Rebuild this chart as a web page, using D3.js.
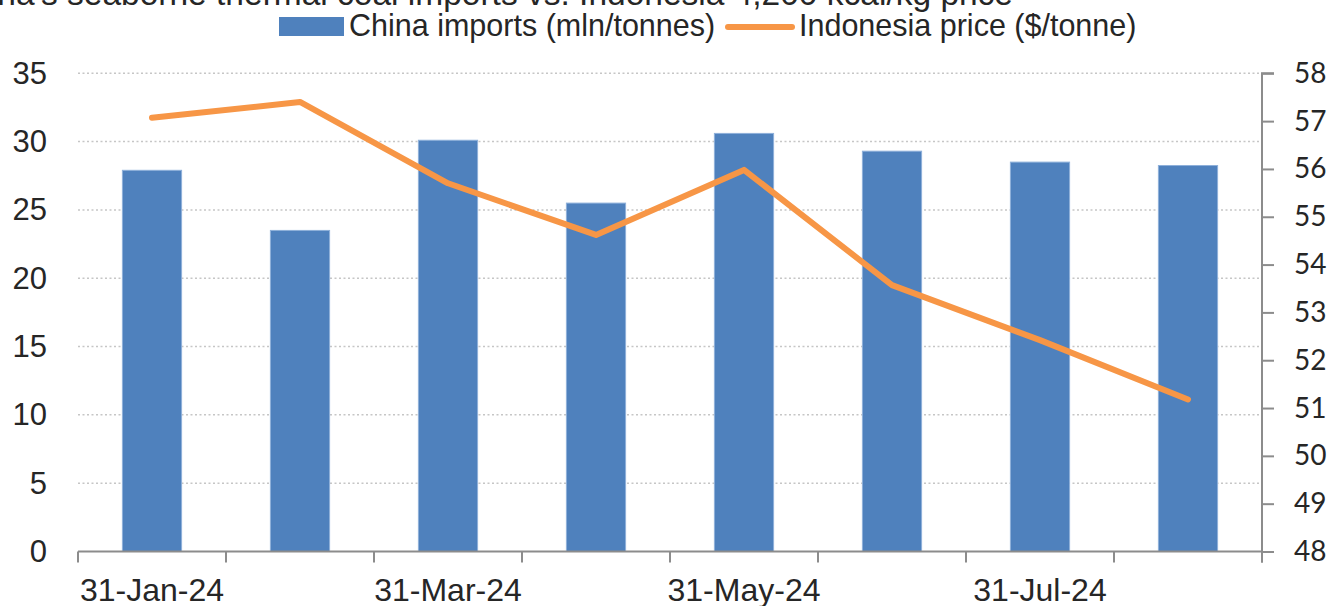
<!DOCTYPE html>
<html>
<head>
<meta charset="utf-8">
<script src="https://cdn.jsdelivr.net/npm/d3@7"></script>
<style>
  body { margin: 0; background: #fff; }
  svg { display: block; }
  text { font-family: "Liberation Sans", Arial, sans-serif; fill: #262626; }
</style>
</head>
<body>
<svg id="chart"></svg>
<script>
// data
const categories = ['31-Jan-24', '29-Feb-24', '31-Mar-24', '30-Apr-24', '31-May-24', '30-Jun-24', '31-Jul-24', '31-Aug-24'];
const imports = [27.9, 23.5, 30.1, 25.5, 30.6, 29.3, 28.5, 28.25];
const price = [57.07, 57.4, 55.7, 54.62, 55.98, 53.57, 52.42, 51.18];
const shownLabels = ['31-Jan-24', '31-Mar-24', '31-May-24', '31-Jul-24'];
const leftTicks = [0, 5, 10, 15, 20, 25, 30, 35];
const rightTicks = [48, 49, 50, 51, 52, 53, 54, 55, 56, 57, 58];

const width = 1330, height = 606;
const plot = { left: 78, right: 1262, top: 73.3, bottom: 551.5 };

const svg = d3.select('#chart')
    .attr('width', width)
    .attr('height', height);

const x = d3.scaleBand()
    .domain(categories)
    .range([plot.left, plot.right])
    .paddingInner(0.6)
    .paddingOuter(0.3);

const yL = d3.scaleLinear().domain([0, 35]).range([plot.bottom, plot.top]);
const yR = d3.scaleLinear().domain([48, 58]).range([plot.bottom, plot.top]);

// title, mostly cropped off the top
svg.append('text')
    .attr('x', 1013)
    .attr('y', 5)
    .attr('text-anchor', 'end')
    .style('font-size', '33.5px')
    .text("China's seaborne thermal coal imports vs. Indonesia 4,200 kcal/kg price");

// gridlines
svg.append('g')
    .selectAll('line')
    .data(leftTicks.filter(d => d > 0))
    .enter()
    .append('line')
        .attr('x1', plot.left)
        .attr('x2', plot.right)
        .attr('y1', d => yL(d))
        .attr('y2', d => yL(d))
        .attr('stroke', '#c6c6c6')
        .attr('stroke-width', 1.5)
        .attr('stroke-dasharray', '2,2.5');

// left axis, labels only
const gL = svg.append('g')
    .attr('transform', `translate(${plot.left},0)`)
    .call(d3.axisLeft(yL).tickValues(leftTicks).tickSize(0).tickPadding(31));
gL.select('.domain').remove();
gL.selectAll('text')
    .style('font-size', '31px')
    .style('font-family', '"Liberation Sans", Arial, sans-serif')
    .attr('fill', '#262626');

// bars
svg.append('g')
    .selectAll('rect')
    .data(imports)
    .enter()
    .append('rect')
        .attr('x', (d, i) => x(categories[i]))
        .attr('width', x.bandwidth())
        .attr('y', d => yL(d))
        .attr('height', d => yL(0) - yL(d))
        .attr('fill', '#4f81bd')
        .attr('stroke', '#8eb0da')
        .attr('stroke-width', 1);

// bottom axis line + ticks at category boundaries
const half = (x.step() - x.bandwidth()) / 2;
const bounds = categories.map(c => x(c) - half).concat([plot.right]);
const gB = svg.append('g');
gB.append('line')
    .attr('x1', plot.left).attr('x2', plot.right)
    .attr('y1', plot.bottom).attr('y2', plot.bottom)
    .attr('stroke', '#8c8c8c').attr('stroke-width', 2);
gB.selectAll('line.tick')
    .data(bounds)
    .enter()
    .append('line')
        .attr('class', 'tick')
        .attr('x1', d => d).attr('x2', d => d)
        .attr('y1', plot.bottom).attr('y2', plot.bottom + 11)
        .attr('stroke', '#8c8c8c').attr('stroke-width', 2);
gB.selectAll('text')
    .data(shownLabels)
    .enter()
    .append('text')
        .attr('x', d => x(d) + x.bandwidth() / 2)
        .attr('y', 601)
        .attr('text-anchor', 'middle')
        .style('font-size', '32px')
        .text(d => d);

// right axis
const gR = svg.append('g')
    .attr('transform', `translate(${plot.right},0)`)
    .call(d3.axisRight(yR).tickValues(rightTicks).tickSize(12).tickSizeOuter(12).tickPadding(20));
gR.select('.domain')
    .attr('stroke', '#8c8c8c').attr('stroke-width', 2)
    .attr('d', `M12,${plot.top}H0V${plot.bottom + 11}`);
gR.selectAll('.tick line').attr('stroke', '#8c8c8c').attr('stroke-width', 2);
gR.selectAll('text')
    .style('font-size', '28px')
    .style('font-family', 'Lato, "Open Sans", sans-serif')
    .attr('fill', '#1a1a1a');

// price line
const line = d3.line()
    .x((d, i) => x(categories[i]) + x.bandwidth() / 2)
    .y(d => yR(d));

svg.append('path')
    .datum(price)
    .attr('d', line)
    .attr('fill', 'none')
    .attr('stroke', '#f79646')
    .attr('stroke-width', 6)
    .attr('stroke-linejoin', 'round')
    .attr('stroke-linecap', 'round');

// legend
const legend = svg.append('g');
legend.append('rect')
    .attr('x', 279).attr('y', 17)
    .attr('width', 65).attr('height', 19)
    .attr('fill', '#4f81bd');
legend.append('text')
    .attr('x', 349).attr('y', 36)
    .style('font-size', '30.5px')
    .text('China imports (mln/tonnes)');
legend.append('line')
    .attr('x1', 728).attr('x2', 792)
    .attr('y1', 27).attr('y2', 27)
    .attr('stroke', '#f79646')
    .attr('stroke-width', 6)
    .attr('stroke-linecap', 'round');
legend.append('text')
    .attr('x', 799).attr('y', 36)
    .style('font-size', '30.5px')
    .text('Indonesia price ($/tonne)');
</script>
</body>
</html>
